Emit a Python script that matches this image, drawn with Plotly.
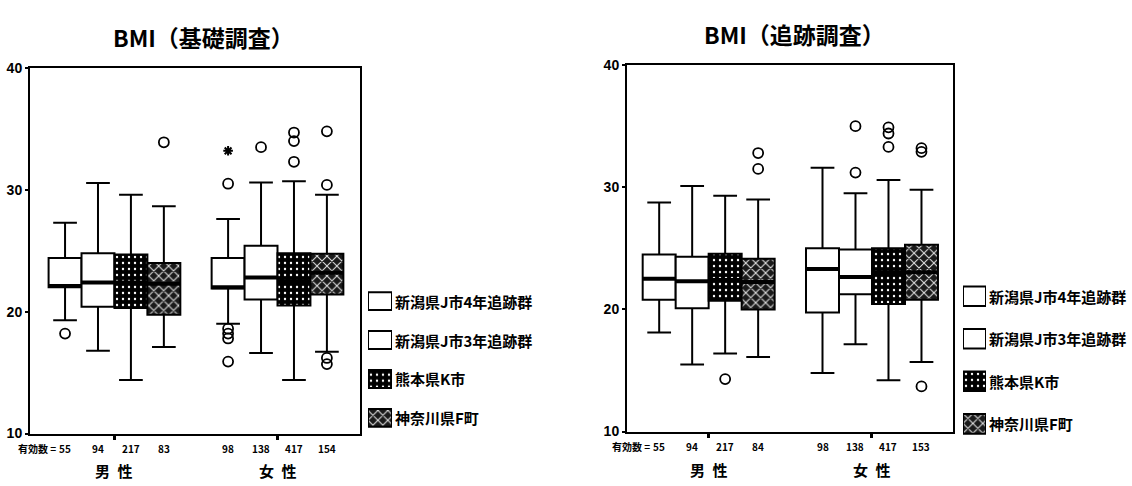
import plotly.graph_objects as go

# ---- data -------------------------------------------------------------
SERIES = ["新潟県J市4年追跡群", "新潟県J市3年追跡群", "熊本県K市", "神奈川県F町"]
GROUPS = ["男\u2002性", "女\u2002性"]
TITLES = ["BMI（基礎調査）", "BMI（追跡調査）"]
Y_TICKS = [10, 20, 30, 40]
N_PREFIX = "有効数 ="

# each row is one series, columns are [男性, 女性]
KISO_LOW = [[19.3, 19.0], [16.8, 16.6], [14.4, 14.4], [17.1, 16.7]]
KISO_Q1 = [[22.0, 21.9], [20.4, 21.0], [20.3, 20.5], [19.75, 21.4]]
KISO_MED = [[22.1, 22.0], [22.4, 22.8], [22.4, 22.5], [22.3, 23.2]]
KISO_Q3 = [[24.4, 24.4], [24.8, 25.4], [24.7, 24.8], [24.0, 24.75]]
KISO_HIGH = [[27.3, 27.6], [30.55, 30.6], [29.6, 30.7], [28.65, 29.6]]
KISO_OUT = [[[18.2], [30.5, 18.6, 18.2, 17.8, 15.9]],
            [[], [33.5]],
            [[], [34.7, 34.0, 32.3]],
            [[33.9], [34.8, 30.4, 16.2, 15.7]]]
KISO_EXT = [[[], [33.2]], [[], []], [[], []], [[], []]]
KISO_N = [[55, 98], [94, 138], [217, 417], [83, 154]]

TSUI_LOW = [[18.1, 14.8], [15.5, 17.15], [16.4, 14.2], [16.1, 15.7]]
TSUI_Q1 = [[20.8, 19.75], [20.1, 21.25], [20.7, 20.45], [20.0, 20.8]]
TSUI_MED = [[22.5, 23.3], [22.3, 22.65], [22.4, 23.0], [22.25, 23.05]]
TSUI_Q3 = [[24.5, 25.0], [24.3, 24.9], [24.55, 25.0], [24.15, 25.3]]
TSUI_HIGH = [[28.75, 31.6], [30.1, 29.5], [29.3, 30.6], [29.0, 29.8]]
TSUI_OUT = [[[], []],
            [[], [35.0, 31.2]],
            [[14.3], [34.9, 34.4, 33.3]],
            [[32.8, 31.5], [33.2, 32.9, 13.7]]]
TSUI_EXT = [[[], []], [[], []], [[], []], [[], []]]
TSUI_N = [[55, 98], [94, 138], [217, 417], [84, 153]]

# ---- geometry ---------------------------------------------------------
W, H = 1132, 486
GROUP_POS = [1, 2]
BOX_W = 0.202
CAP = 0.36 * BOX_W
JP = "Noto Sans CJK JP"


def xdom(a, b):
    return [a / W, b / W]


def ydom(top, bottom):
    return [1 - bottom / H, 1 - top / H]


def box_marker(s):
    line = dict(color="black", width=2)
    if s == 2:
        return dict(color="black", line=line,
                    pattern=dict(shape=".", fgcolor="white", bgcolor="black",
                                 size=6, solidity=0.12, fillmode="replace"))
    if s == 3:
        return dict(color="#222", line=line,
                    pattern=dict(shape="x", fgcolor="#e0e0e0", bgcolor="#1a1a1a",
                                 size=7, solidity=0.28, fillmode="replace"))
    return dict(color="white", line=line)


fig = go.Figure()


def add_panel(xa, ya, low, q1, med, q3, high, outs, exts):
    centers = []
    for s in range(len(SERIES)):
        xc = [GROUP_POS[g] + (s - 1.5) * BOX_W for g in range(len(GROUPS))]
        centers.append(xc)
        fig.add_bar(x=xc, base=q1[s], y=[b - a for a, b in zip(q1[s], q3[s])],
                    width=BOX_W, marker=box_marker(s), xaxis=xa, yaxis=ya,
                    showlegend=False, hoverinfo="skip")
    for s in range(len(SERIES)):
        wx, wy, mx, my = [], [], [], []
        ox, oy, ex, ey = [], [], [], []
        for g in range(len(GROUPS)):
            c = centers[s][g]
            wx += [c, c, None, c - CAP, c + CAP, None, c, c, None, c - CAP, c + CAP, None]
            wy += [q3[s][g], high[s][g], None, high[s][g], high[s][g], None,
                   q1[s][g], low[s][g], None, low[s][g], low[s][g], None]
            mx += [c - BOX_W / 2, c + BOX_W / 2, None]
            my += [med[s][g], med[s][g], None]
            ox += [c] * len(outs[s][g])
            oy += outs[s][g]
            ex += [c] * len(exts[s][g])
            ey += exts[s][g]
        fig.add_scatter(x=wx, y=wy, mode="lines", line=dict(color="black", width=2),
                        xaxis=xa, yaxis=ya, showlegend=False, hoverinfo="skip")
        fig.add_scatter(x=mx, y=my, mode="lines", line=dict(color="black", width=4),
                        xaxis=xa, yaxis=ya, showlegend=False, hoverinfo="skip")
        if oy:
            fig.add_scatter(x=ox, y=oy, mode="markers",
                            marker=dict(symbol="circle-open", size=10, color="black",
                                        line=dict(width=1.8, color="black")),
                            xaxis=xa, yaxis=ya, showlegend=False)
        if ey:
            fig.add_scatter(x=ex, y=ey, mode="markers",
                            marker=dict(symbol="asterisk-open", size=8, color="black",
                                        line=dict(width=2, color="black")),
                            xaxis=xa, yaxis=ya, showlegend=False)
    return centers


def add_legend(xa, ya):
    for s, name in enumerate(SERIES):
        fig.add_bar(x=[0.5], base=[s - 0.23], y=[0.46], width=1,
                    marker=box_marker(s), xaxis=xa, yaxis=ya,
                    showlegend=False, hoverinfo="skip")
        fig.add_annotation(x=1, y=s, xref=xa, yref=ya, text=name, showarrow=False,
                           xanchor="left", yanchor="middle", xshift=1,
                           font=dict(family=JP, size=15, color="black", weight="bold"))


def add_labels(xa, centers, n, y_counts, y_groups):
    for s in range(len(SERIES)):
        for g in range(len(GROUPS)):
            fig.add_annotation(x=centers[s][g], y=1 - y_counts / H, xref=xa, yref="paper",
                               text=str(n[s][g]), showarrow=False,
                               xanchor="center", yanchor="middle",
                               font=dict(family=JP, size=10, color="black", weight="bold"))
    fig.add_annotation(x=centers[0][0], y=1 - y_counts / H, xref=xa, yref="paper",
                       text=N_PREFIX, showarrow=False, xanchor="right", yanchor="middle",
                       xshift=-7, font=dict(family=JP, size=10, color="black", weight="bold"))
    for g, label in enumerate(GROUPS):
        fig.add_annotation(x=GROUP_POS[g], y=1 - y_groups / H, xref=xa, yref="paper",
                           text=label, showarrow=False, xanchor="center", yanchor="middle",
                           font=dict(family=JP, size=15, color="black", weight="bold"))


c1 = add_panel("x", "y", KISO_LOW, KISO_Q1, KISO_MED, KISO_Q3, KISO_HIGH, KISO_OUT, KISO_EXT)
c2 = add_panel("x2", "y2", TSUI_LOW, TSUI_Q1, TSUI_MED, TSUI_Q3, TSUI_HIGH, TSUI_OUT, TSUI_EXT)
add_legend("x3", "y3")
add_legend("x4", "y4")
add_labels("x", c1, KISO_N, 455, 478)
add_labels("x2", c2, TSUI_N, 453, 477)

for title, cx, cy in zip(TITLES, [203, 794], [30, 27]):
    fig.add_annotation(x=cx / W, y=1 - cy / H, xref="paper", yref="paper", text=title,
                       showarrow=False, xanchor="center", yanchor="middle",
                       font=dict(family=JP, size=23, color="black", weight="bold"))

xaxis_common = dict(showline=True, linecolor="black", linewidth=2, mirror=True,
                    ticks="outside", tickvals=GROUP_POS, ticklen=4, tickwidth=3,
                    tickcolor="black", showticklabels=False, showgrid=False,
                    zeroline=False, fixedrange=True)
yaxis_common = dict(range=[10, 40], tickvals=Y_TICKS, showline=True, linecolor="black",
                    linewidth=2, mirror=True, ticks="outside", ticklen=3, tickwidth=1.5,
                    tickcolor="black", showgrid=False, zeroline=False, fixedrange=True,
                    tickfont=dict(family="Liberation Sans", size=14, color="black",
                                  weight="bold"))
hidden = dict(visible=False, showgrid=False, zeroline=False, fixedrange=True)

fig.update_layout(
    width=W, height=H, autosize=False,
    margin=dict(l=0, r=0, t=0, b=0),
    paper_bgcolor="white", plot_bgcolor="white",
    barmode="overlay", showlegend=False,
    xaxis=dict(domain=xdom(30, 360), range=[0.482, 2.506], anchor="y", **xaxis_common),
    yaxis=dict(domain=ydom(62, 440), anchor="x", **yaxis_common),
    xaxis2=dict(domain=xdom(627, 953), range=[0.50, 2.496], anchor="y2", **xaxis_common),
    yaxis2=dict(domain=ydom(59, 438), anchor="x2", **yaxis_common),
    xaxis3=dict(domain=xdom(368, 392), range=[0, 1], anchor="y3", **hidden),
    yaxis3=dict(domain=ydom(283, 444), range=[3.5, -0.5], anchor="x3", **hidden),
    xaxis4=dict(domain=xdom(963, 986), range=[0, 1], anchor="y4", **hidden),
    yaxis4=dict(domain=ydom(276, 452), range=[3.5, -0.5], anchor="x4", **hidden),
)

fig.write_html("out.html", config={"displayModeBar": False})
